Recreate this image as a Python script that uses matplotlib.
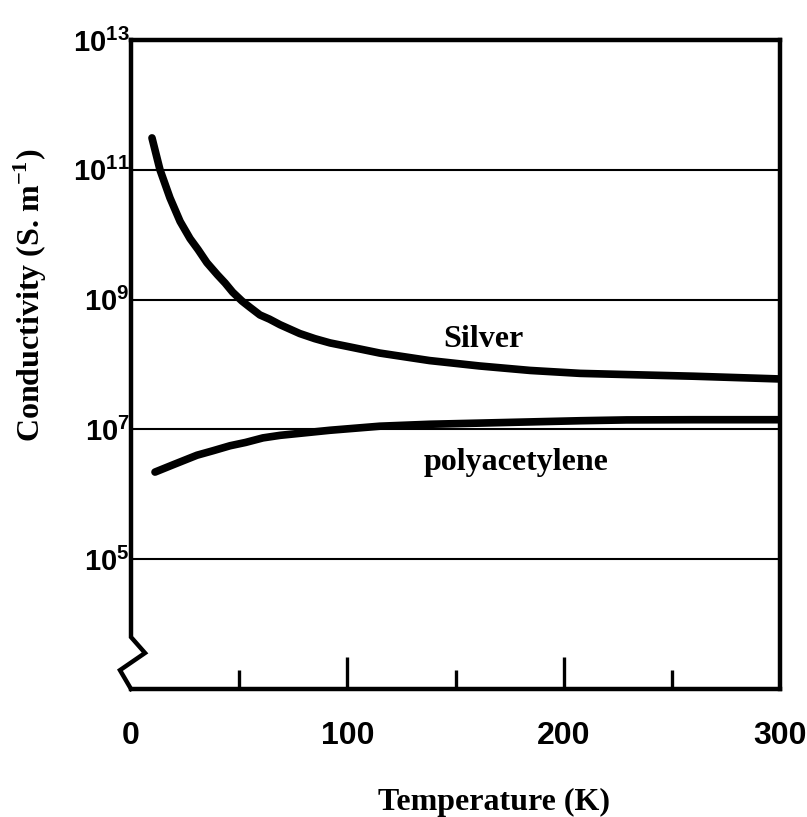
import numpy as np
import matplotlib
matplotlib.use("Agg")
import matplotlib.pyplot as plt

# values (temperature in K, conductivity in S/m)
silver_T = [9.7, 13.4, 18.0, 22.7, 27.3, 31.0, 35.1, 40.0, 43.5, 47.0, 51.3, 55.0,
            59.6, 64.0, 68.9, 78.0, 85.0, 92.0, 100.0, 115.0, 138.0, 161.0, 184.5,
            207.6, 229.0, 260.0, 299.0]
silver_sigma = [3.1e11, 1.0e11, 3.7e10, 1.6e10, 8.7e9, 5.9e9, 3.7e9, 2.4e9, 1.8e9,
                1.3e9, 9.5e8, 7.6e8, 5.8e8, 5.0e8, 4.1e8, 3.0e8, 2.5e8, 2.15e8,
                1.9e8, 1.5e8, 1.15e8, 9.5e7, 8.1e7, 7.3e7, 7.0e7, 6.6e7, 6.0e7]

poly_T = [11.1, 20.0, 30.5, 38.0, 45.8, 53.0, 61.0, 68.9, 92.0, 115.0, 138.0, 161.0,
          207.6, 229.0, 260.0, 299.0]
poly_sigma = [2.2e6, 2.9e6, 4.0e6, 4.7e6, 5.6e6, 6.3e6, 7.4e6, 8.1e6, 9.7e6, 1.12e7,
              1.2e7, 1.25e7, 1.36e7, 1.40e7, 1.41e7, 1.41e7]

x_ticks = [0, 100, 200, 300]
x_minor = [50, 150, 250]
y_ticks = [1e5, 1e7, 1e9, 1e11, 1e13]
y_labels = ["$10^{5}$", "$10^{7}$", "$10^{9}$", "$10^{11}$", "$10^{13}$"]

plt.rcParams["mathtext.fontset"] = "custom"
plt.rcParams["mathtext.rm"] = "Liberation Sans:bold"
plt.rcParams["mathtext.it"] = "Liberation Sans:bold"
plt.rcParams["mathtext.bf"] = "Liberation Sans:bold"

fig = plt.figure(figsize=(8.07, 8.17), dpi=100)
ax = fig.add_axes([131 / 807, 1 - 689 / 817, 649 / 807, 649 / 817])

ax.set_yscale("log")
ax.set_xlim(0, 300)
ax.set_ylim(1e3, 1e13)

# horizontal reference lines
for g in y_ticks[:-1]:
    ax.axhline(g, color="black", lw=1.5, zorder=1)

ax.plot(silver_T, silver_sigma, color="black", lw=5.5, solid_capstyle="round",
        solid_joinstyle="round", zorder=3)
ax.plot(poly_T, poly_sigma, color="black", lw=5.5, solid_capstyle="round",
        solid_joinstyle="round", zorder=3)

ax.text(163, 10**8.38, "Silver", family="Liberation Serif", weight="bold",
        fontsize=23, ha="center", va="center")
ax.text(178, 10**6.49, "polyacetylene", family="Liberation Serif", weight="bold",
        fontsize=23, ha="center", va="center")

# spines: left one broken near the bottom
ax.spines["left"].set_visible(False)
for s in ["top", "right", "bottom"]:
    ax.spines[s].set_linewidth(3.2)
ax.plot([0, 0, 0.0216, -0.017, 0], [1.0, 0.08, 0.0555, 0.029, 0.0],
        transform=ax.transAxes, color="black", lw=3.2, clip_on=False,
        solid_joinstyle="miter", zorder=5)

# x ticks
ax.set_xticks(x_ticks)
ax.set_xticklabels([str(v) for v in x_ticks], family="Liberation Sans",
                   weight="bold", fontsize=23)
ax.set_xticks(x_minor, minor=True)
ax.tick_params(axis="x", which="major", direction="in", length=23, width=2.4,
               pad=23, top=False)
ax.tick_params(axis="x", which="minor", direction="in", length=14, width=2.4,
               top=False)
ticks = ax.xaxis.get_major_ticks()
ticks[0].tick1line.set_visible(False)
ticks[-1].tick1line.set_visible(False)

# y ticks
ax.set_yticks(y_ticks)
ax.set_yticklabels(y_labels, fontsize=21)
ax.yaxis.set_minor_locator(matplotlib.ticker.NullLocator())
ax.tick_params(axis="y", which="major", length=0, pad=1)

fig.text(30 / 807, 1 - 295 / 817, "Conductivity (S. m$^{\\mathregular{-1}}$)",
         family="Liberation Serif", weight="bold", fontsize=23,
         rotation=90, ha="center", va="center")
fig.text(494 / 807, 1 - 810 / 817, "Temperature (K)", family="Liberation Serif",
         weight="bold", fontsize=23, ha="center", va="baseline")

plt.savefig("out.png", dpi=100)
